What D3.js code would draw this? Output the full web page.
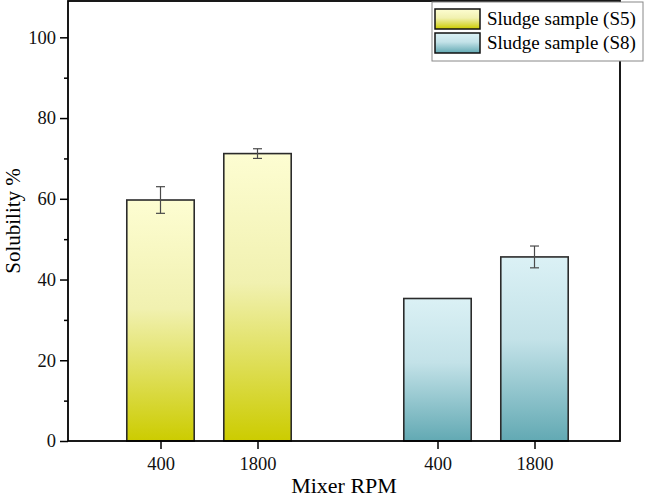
<!DOCTYPE html>
<html>
<head>
<meta charset="utf-8">
<script src="https://cdn.jsdelivr.net/npm/d3@7"></script>
<style>
  body { margin: 0; background: #fff; }
  svg { display: block; font-family: "Liberation Serif", "Times New Roman", serif; }
</style>
</head>
<body>
<svg id="chart" width="650" height="497"></svg>
<script>
// data
const samples = ["Sludge sample (S5)", "Sludge sample (S8)"];
const rpms = ["400", "1800"];
const s5Values = [59.7, 71.2];
const s5Errors = [3.3, 1.2];
const s8Values = [35.3, 45.6];
const s8Errors = [0, 2.7];
const yTicks = [0, 20, 40, 60, 80, 100];

const width = 650, height = 497;
const margin = {top: 1, right: 30, bottom: 56, left: 68};

const svg = d3.select("#chart");

const gradients = [
  {id: "gS5", stops: ["#fdfdd2", "#f1f1b0", "#cccc00"]},
  {id: "gS8", stops: ["#dbf1f5", "#c3e2e8", "#62a9b3"]}
];
const defs = svg.append("defs");
gradients.forEach(g => {
  const lg = defs.append("linearGradient")
    .attr("id", g.id).attr("x1", 0).attr("y1", 0).attr("x2", 0).attr("y2", 1);
  lg.append("stop").attr("offset", "0%").attr("stop-color", g.stops[0]);
  lg.append("stop").attr("offset", "45%").attr("stop-color", g.stops[1]);
  lg.append("stop").attr("offset", "100%").attr("stop-color", g.stops[2]);
});

const data = [];
samples.forEach((s, i) => {
  const vals = i === 0 ? s5Values : s8Values;
  const errs = i === 0 ? s5Errors : s8Errors;
  rpms.forEach((r, j) => data.push({sample: s, rpm: r, value: vals[j], err: errs[j], fill: gradients[i].id}));
});

// group centres
const x0 = d3.scalePoint()
  .domain(samples)
  .range([70.5, 624.5])
  .padding(0.5);

// bars inside a group
const x1 = d3.scaleBand()
  .domain(rpms)
  .range([-97, 97])
  .paddingInner(0.305)
  .paddingOuter(0.1525);

const y = d3.scaleLinear()
  .domain([0, 109])
  .range([height - margin.bottom, margin.top]);

const plotBottom = height - margin.bottom;
const cx = d => x0(d.sample) + x1(d.rpm) + x1.bandwidth() / 2;

// bars
const bars = svg.append("g").attr("class", "plot-area");
bars.selectAll(".bar")
  .data(data)
  .join("rect")
  .attr("class", "bar")
  .attr("x", d => x0(d.sample) + x1(d.rpm))
  .attr("width", x1.bandwidth())
  .attr("y", d => y(d.value))
  .attr("height", d => y(0) - y(d.value))
  .attr("fill", d => `url(#${d.fill})`)
  .attr("stroke", "#2b2b2b")
  .attr("stroke-width", 1.6);

// error bars
const eb = bars.selectAll(".err")
  .data(data.filter(d => d.err > 0))
  .join("g")
  .attr("class", "err")
  .attr("stroke", "#4a4a4a")
  .attr("stroke-width", 1.2);
eb.append("line")
  .attr("x1", cx)
  .attr("x2", cx)
  .attr("y1", d => y(d.value + d.err))
  .attr("y2", d => y(d.value - d.err));
eb.selectAll(".cap")
  .data(d => [d.value + d.err, d.value - d.err].map(v => ({d, v})))
  .join("line")
  .attr("x1", o => cx(o.d) - 4.5)
  .attr("x2", o => cx(o.d) + 4.5)
  .attr("y1", o => y(o.v))
  .attr("y2", o => y(o.v));

// frame
svg.append("rect")
  .attr("x", margin.left)
  .attr("y", margin.top)
  .attr("width", width - margin.right - margin.left)
  .attr("height", plotBottom - margin.top)
  .attr("fill", "none")
  .attr("stroke", "#000")
  .attr("stroke-width", 1.8);

// y axis
const yAxis = svg.append("g")
  .attr("transform", `translate(${margin.left},0)`)
  .call(d3.axisLeft(y).tickValues(yTicks).tickSize(8).tickPadding(4))
  .call(g => g.select(".domain").remove());
yAxis.selectAll("line").attr("stroke-width", 1.5);
yAxis.selectAll("text").attr("font-size", 18.5).attr("fill", "#111")
  .attr("font-family", "Liberation Serif, serif");
svg.append("g")
  .attr("transform", `translate(${margin.left},0)`)
  .call(d3.axisLeft(y).tickValues(d3.range(10, 110, 20)).tickSize(4).tickFormat(""))
  .call(g => g.select(".domain").remove())
  .selectAll("line").attr("stroke-width", 1.5);

// x axis, one set of ticks per group
const xAxis = svg.append("g")
  .attr("transform", `translate(0,${plotBottom})`);
samples.forEach(s => {
  const inner = d3.scaleOrdinal()
    .domain(rpms)
    .range(rpms.map(r => cx({sample: s, rpm: r})));
  xAxis.append("g")
    .call(d3.axisBottom(inner).tickSize(8).tickPadding(8))
    .call(g => g.select(".domain").remove());
});
xAxis.selectAll("line").attr("stroke-width", 1.5);
xAxis.selectAll("text").attr("font-size", 18.5).attr("fill", "#111")
  .attr("font-family", "Liberation Serif, serif");

// axis titles
svg.append("text")
  .attr("transform", `translate(20,${(margin.top + plotBottom) / 2}) rotate(-90)`)
  .attr("text-anchor", "middle")
  .attr("font-size", 21)
  .text("Solubility %");
svg.append("text")
  .attr("x", (margin.left + width - margin.right) / 2)
  .attr("y", 493)
  .attr("text-anchor", "middle")
  .attr("font-size", 22)
  .text("Mixer RPM");

// legend
const legend = svg.append("g").attr("transform", "translate(432,2)");
legend.append("rect")
  .attr("width", 211).attr("height", 59)
  .attr("fill", "#fff").attr("stroke", "#888").attr("stroke-width", 1);
const li = legend.selectAll(".item")
  .data(samples)
  .join("g")
  .attr("class", "item")
  .attr("transform", (d, i) => `translate(3,${7 + i * 24})`);
li.append("rect")
  .attr("width", 45).attr("height", 20)
  .attr("fill", (d, i) => `url(#${gradients[i].id})`)
  .attr("stroke", "#111").attr("stroke-width", 1.5);
li.append("text")
  .attr("x", 52).attr("y", 16)
  .attr("font-size", 19)
  .text(d => d);
</script>
</body>
</html>
